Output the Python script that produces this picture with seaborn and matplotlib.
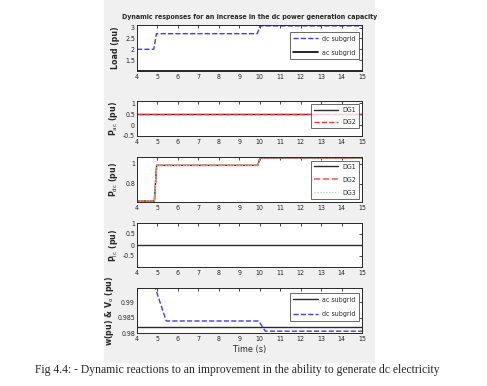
import numpy as np
import pandas as pd
import seaborn as sns
import matplotlib.pyplot as plt
from matplotlib.patches import Rectangle

# Time breakpoints and values (pu)
load_t = [4.0, 4.82, 4.95, 9.88, 10.02, 15.0]
load_dc = [2.0, 2.0, 2.72, 2.72, 3.08, 3.08]
load_ac = [1.0, 1.0, 1.0, 1.0, 1.0, 1.0]

pac_t = [4.0, 15.0]
pac_dg1 = [0.5, 0.5]
pac_dg2 = [0.5, 0.5]

pdc_t = [4.0, 4.85, 4.96, 9.9, 10.02, 15.0]
pdc_dg = [0.63, 0.63, 0.984, 0.984, 1.058, 1.058]

plc_t = [4.0, 15.0]
plc_vals = [0.0, 0.0]

freq_t = [4.0, 4.9, 5.43, 9.95, 10.27, 15.0]
freq_dc = [0.9945, 0.9945, 0.9839, 0.9839, 0.9806, 0.9806]
freq_ac = [0.9818, 0.9818, 0.9818, 0.9818, 0.9818, 0.9818]

xticks = list(range(4, 16))

sns.set_style("white")
plt.rcParams['font.family'] = ['DejaVu Sans', 'Liberation Sans']
plt.rcParams['font.stretch'] = 'condensed'
plt.rcParams['mathtext.fontset'] = 'custom'
plt.rcParams['mathtext.rm'] = 'DejaVu Sans:stretch=condensed'
plt.rcParams['mathtext.it'] = 'DejaVu Sans:stretch=condensed'
plt.rcParams['mathtext.bf'] = 'DejaVu Sans:bold:stretch=condensed'

fig = plt.figure(figsize=(4.87, 3.86), dpi=100)
W, H = 487, 386
fig.patches.append(Rectangle((104 / W, 1 - 362 / H), 270 / W, 362 / H,
                             transform=fig.transFigure, color='#f0f0f0', zorder=-10))

def make_ax(top, bottom):
    ax = fig.add_axes([137 / W, 1 - bottom / H, 225 / W, (bottom - top) / H])
    ax.set_facecolor('white')
    for s in ax.spines.values():
        s.set_color('#262626')
        s.set_linewidth(0.7)
    ax.tick_params(direction='in', top=True, right=True, length=2.5, width=0.6,
                   labelsize=5, pad=2, colors='#262626')
    ax.tick_params(axis='y', pad=1.5)
    ax.set_xlim(4, 15)
    ax.set_xticks(xticks)
    return ax

lab_kw = dict(fontsize=6.3, fontweight='bold', labelpad=2)
leg_kw = dict(fontsize=5, frameon=True, fancybox=False, edgecolor='#262626',
              handlelength=3.5, borderpad=0.5, labelspacing=1.2, handletextpad=0.6)

# Panel 1: load
ax1 = make_ax(25, 71)
sns.lineplot(x=load_t, y=load_dc, ax=ax1, color='#3b3bff', lw=1.0, ls='--', label='dc subgrid')
sns.lineplot(x=load_t, y=load_ac, ax=ax1, color='black', lw=1.2, label='ac subgrid')
ax1.set_ylim(1.0, 3.12)
ax1.set_yticks([1.5, 2, 2.5, 3])
ax1.set_yticklabels(['1.5', '2', '2.5', '3'])
ax1.set_ylabel('Load (pu)', **lab_kw)
ax1.set_title('Dynamic responses for an increase in the dc power generation capacity',
              fontsize=5.0, fontweight='bold', pad=4)
leg = ax1.legend(loc='center right', bbox_to_anchor=(1.0, 0.55), **leg_kw)
leg.get_frame().set_linewidth(0.6)

# Panel 2: P_ac
ax2 = make_ax(101, 136)
sns.lineplot(x=pac_t, y=pac_dg1, ax=ax2, color='#2a2a2a', lw=1.0, label='DG1')
sns.lineplot(x=pac_t, y=pac_dg2, ax=ax2, color='#ff3030', lw=1.0, ls='--', label='DG2')
ax2.set_ylim(-0.5, 1.1)
ax2.set_yticks([-0.5, 0, 0.5, 1])
ax2.set_yticklabels(['-0.5', '0', '0.5', '1'])
ax2.set_ylabel('P$_{ac}$ (pu)', **lab_kw)
leg = ax2.legend(loc='upper right', **dict(leg_kw, labelspacing=0.9, borderpad=0.4))
leg.get_frame().set_linewidth(0.6)

# Panel 3: P_dc
ax3 = make_ax(157, 202)
sns.lineplot(x=pdc_t, y=pdc_dg, ax=ax3, color='#2a2a2a', lw=1.0, label='DG1')
sns.lineplot(x=pdc_t, y=pdc_dg, ax=ax3, color='#ff6060', lw=1.2, ls='--', label='DG2')
sns.lineplot(x=pdc_t, y=pdc_dg, ax=ax3, color='#7ee87e', lw=0.8, ls=':', label='DG3')
ax3.set_ylim(0.62, 1.067)
ax3.set_yticks([0.8, 1])
ax3.set_yticklabels(['0.8', '1'])
ax3.set_ylabel('P$_{dc}$ (pu)', **lab_kw)
leg = ax3.legend(loc='lower right', **dict(leg_kw, labelspacing=1.0, borderpad=0.4))
leg.get_frame().set_linewidth(0.6)

# Panel 4: P_lc
ax4 = make_ax(223, 267)
sns.lineplot(x=plc_t, y=plc_vals, ax=ax4, color='#2a2a2a', lw=1.0)
ax4.set_ylim(-1, 1)
ax4.set_yticks([-0.5, 0, 0.5, 1])
ax4.set_yticklabels(['-0.5', '0', '0.5', '1'])
ax4.set_ylabel('P$_{lc}$ (pu)', **lab_kw)

# Panel 5: frequency / voltage
ax5 = make_ax(288, 333)
sns.lineplot(x=freq_t, y=freq_ac, ax=ax5, color='#2a2a2a', lw=1.0, label='ac subgrid')
sns.lineplot(x=freq_t, y=freq_dc, ax=ax5, color='#3b3bff', lw=1.0, ls='--', label='dc subgrid')
ax5.set_ylim(0.98, 0.9946)
ax5.set_yticks([0.98, 0.985, 0.99])
ax5.set_yticklabels(['0.98', '0.985', '0.99'])
ax5.set_ylabel('w(pu) & V$_o$ (pu)', **lab_kw)
ax5.set_xlabel('Time (s)', fontsize=6.5, labelpad=2)
leg = ax5.legend(loc='center right', bbox_to_anchor=(1.0, 0.58), **leg_kw)
leg.get_frame().set_linewidth(0.6)

for ax in (ax1, ax2, ax3, ax4):
    ax.yaxis.set_label_coords(-0.075, 0.5)
ax5.yaxis.set_label_coords(-0.095, 0.5)

fig.text(237 / W, 1 - 370 / H,
         'Fig 4.4: - Dynamic reactions to an improvement in the ability to generate dc electricity',
         ha='center', va='center', fontsize=8.4, stretch='normal',
         family=['Liberation Serif', 'DejaVu Serif'])

fig.savefig('out.png', dpi=100)
